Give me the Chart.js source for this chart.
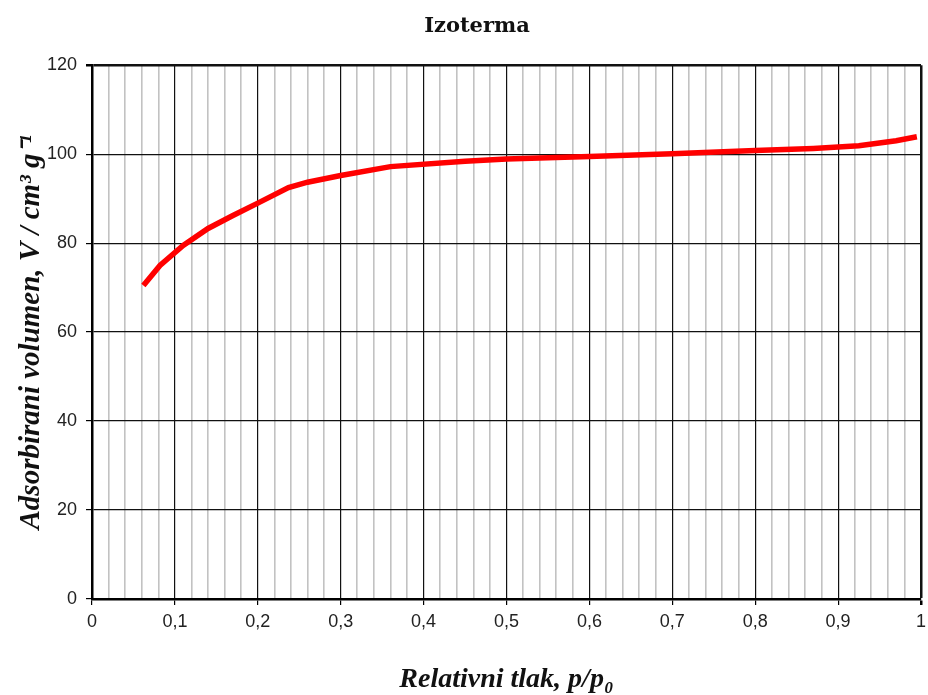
<!DOCTYPE html>
<html>
<head>
<meta charset="utf-8">
<script src="https://cdn.jsdelivr.net/npm/chart.js@4"></script>
<style>
  html, body { margin: 0; padding: 0; background: #fff; }
  #wrap { width: 928px; height: 695px; }
</style>
</head>
<body>
<div id="wrap"><canvas id="izoterma"></canvas></div>
<script>
// relative pressure p/p0 and adsorbed volume (cm3/g)
const pressure = [0.062, 0.082, 0.11, 0.14, 0.17, 0.2, 0.237, 0.26, 0.3, 0.36, 0.45, 0.5, 0.6, 0.7, 0.8, 0.87, 0.925, 0.97, 0.995];
const volume   = [70.5, 75.0, 79.5, 83.3, 86.2, 89.0, 92.5, 93.7, 95.2, 97.2, 98.4, 98.9, 99.5, 100.1, 100.8, 101.3, 101.9, 103.0, 103.9];

const chartTitle = "Izoterma";
const xTitle = "Relativni tlak, p/p\u2080";
const yTitle = "Adsorbirani volumen, V / cm\u00b3 g\u207b\u00b9";

function isMajor(v) {
  return Math.abs(v * 10 - Math.round(v * 10)) < 1e-6;
}

function xLabel(v) {
  if (!isMajor(v)) return "";
  return (Math.round(v * 10) / 10).toString().replace(".", ",");
}

function init() {
  const ctx = document.getElementById("izoterma");
  const points = pressure.map((p, i) => ({ x: p, y: volume[i] }));

  new Chart(ctx, {
    type: "line",
    data: {
      datasets: [{
        data: points,
        borderColor: "#ff0000",
        borderWidth: 5.5,
        pointRadius: 0,
        tension: 0,
        fill: false
      }]
    },
    options: {
      responsive: true,
      maintainAspectRatio: false,
      animation: false,
      layout: { padding: { left: 26, right: 0, top: 0, bottom: 0 } },
      plugins: {
        legend: { display: false },
        tooltip: { enabled: false },
        title: {
          display: true,
          text: chartTitle,
          color: "#111",
          font: { family: "DejaVu Serif", size: 21, weight: "bold" },
          padding: { top: 14, bottom: 26 }
        }
      },
      scales: {
        x: {
          type: "linear",
          min: 0,
          max: 1,
          afterFit: s => { s.height = 96; s.paddingRight = 7; },
          ticks: {
            stepSize: 0.02,
            autoSkip: false,
            maxRotation: 0,
            padding: 6,
            color: "#222",
            font: { family: "Liberation Sans", size: 18 },
            callback: v => xLabel(v)
          },
          grid: {
            color: c => isMajor(c.tick.value) ? "#111" : "#c2c2c2",
            lineWidth: c => c.tick.value >= 0.999 ? 2.5 : (isMajor(c.tick.value) ? 1.2 : 1.6),
            tickColor: c => isMajor(c.tick.value) ? "#000" : "rgba(0,0,0,0)",
            tickLength: 6
          },
          border: { color: "#000", width: 2.5 },
          title: {
            display: true,
            text: xTitle,
            color: "#111",
            font: { family: "Liberation Serif", size: 28, weight: "bold", style: "italic" },
            padding: { top: 0, bottom: -2 }
          }
        },
        y: {
          min: 0,
          max: 120,
          afterFit: s => { s.width = 66; },
          ticks: {
            stepSize: 20,
            padding: 9,
            color: "#222",
            font: { family: "Liberation Sans", size: 18 }
          },
          grid: {
            color: "#111",
            lineWidth: c => c.tick.value >= 120 ? 2.5 : 1.2,
            tickColor: "#000",
            tickLength: 6
          },
          border: { color: "#000", width: 2.5 },
          title: {
            display: true,
            text: yTitle,
            color: "#111",
            font: { family: "Liberation Serif", size: 29, weight: "bold", style: "italic" },
            padding: { top: -12, bottom: 0 }
          }
        }
      }
    }
  });
}

window.onload = init;
</script>
</body>
</html>
